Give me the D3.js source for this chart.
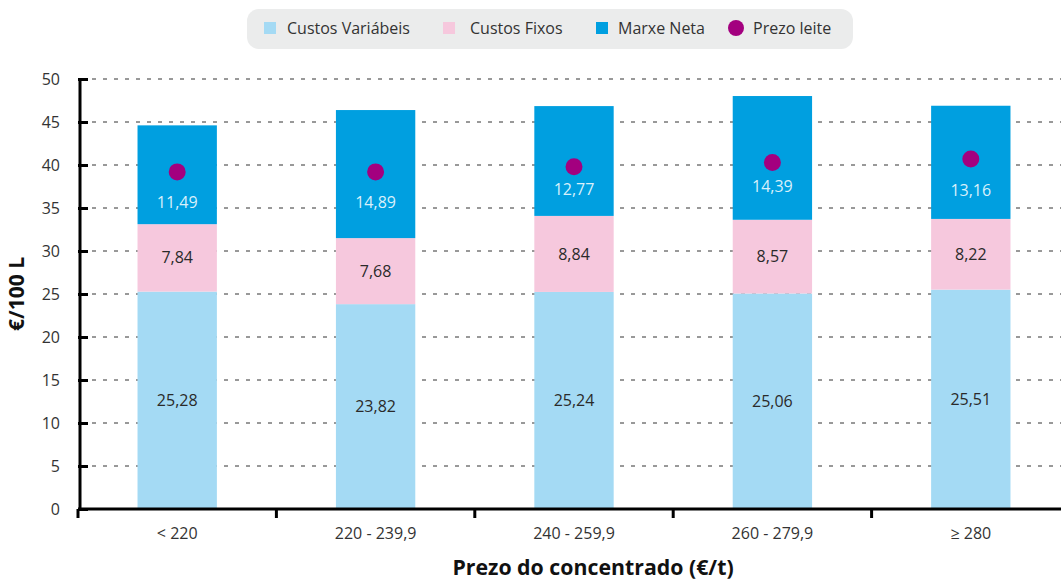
<!DOCTYPE html>
<html><head><meta charset="utf-8">
<script src="https://cdn.jsdelivr.net/npm/d3@7"></script>
<style>body{margin:0;background:#fff}svg{display:block;font-family:"Open Sans",sans-serif}</style>
</head><body><svg id="c" width="1061" height="581"></svg>
<script>
const categories = ["< 220", "220 - 239,9", "240 - 259,9", "260 - 279,9", "≥ 280"];
const custosVariabeis = [25.28, 23.82, 25.24, 25.06, 25.51];
const custosFixos = [7.84, 7.68, 8.84, 8.57, 8.22];
const marxeNeta = [11.49, 14.89, 12.77, 14.39, 13.16];
const prezoLeite = [39.2, 39.2, 39.8, 40.3, 40.7];
const yTicks = [0, 5, 10, 15, 20, 25, 30, 35, 40, 45, 50];
const seriesNames = ["Custos Variábeis", "Custos Fixos", "Marxe Neta", "Prezo leite"];
const colors = ["#a4daf4", "#f6c8dd", "#009fe0", "#a3007f"];
const labelColors = ["#2a2a2a", "#2a2a2a", "#d9f0fb"];

const svg = d3.select("#c");
const x = d3.scaleBand().domain(categories).range([78, 1070]);
const y = d3.scaleLinear().domain([0, 50]).range([509, 79]);
const barW = x.bandwidth() * 0.4;

// grid
svg.append("g").selectAll("line").data(yTicks.filter(d => d > 0)).join("line")
  .attr("x1", 92).attr("x2", 1061).attr("y1", d => y(d)).attr("y2", d => y(d))
  .attr("stroke", "#333").attr("stroke-width", 1).attr("stroke-dasharray", "4,7");

// stacked bars
const rows = categories.map((c, i) => ({cat: c, v: [custosVariabeis[i], custosFixos[i], marxeNeta[i]]}));
rows.forEach(r => {
  let base = 0;
  r.v.forEach((val, k) => {
    const cx = x(r.cat) + x.bandwidth() / 2;
    svg.append("rect").attr("x", cx - barW / 2).attr("width", barW)
      .attr("y", y(base + val)).attr("height", y(base) - y(base + val)).attr("fill", colors[k]);
    const mid = base + val / 2;
    svg.append("text").attr("x", cx).attr("y", y(mid) + (k === 2 ? 28 : 0)).attr("dy", "0.35em")
      .attr("text-anchor", "middle").attr("font-size", 16).attr("fill", labelColors[k])
      .text(val.toFixed(2).replace(".", ","));
    base += val;
  });
});

// dots
svg.append("g").selectAll("circle").data(prezoLeite).join("circle")
  .attr("cx", (d, i) => x(categories[i]) + x.bandwidth() / 2).attr("cy", d => y(d))
  .attr("r", 8.5).attr("fill", colors[3]);

// y axis
const ya = svg.append("g").attr("transform", "translate(80,0)")
  .call(d3.axisLeft(y).tickValues(yTicks).tickSize(-8).tickPadding(20));
ya.select(".domain").attr("stroke", "#000").attr("stroke-width", 3).attr("d", `M0,${y(50)-1}V${y(0)+1}`);
ya.selectAll(".tick line").attr("stroke", "#000").attr("stroke-width", 3).attr("x1", -2);
ya.selectAll(".tick text").attr("font-size", 16).attr("fill", "#333").attr("font-family", "Open Sans, sans-serif");

// x axis
const xa = svg.append("g").attr("transform", `translate(0,${y(0)})`)
  .call(d3.axisBottom(x).tickSize(0).tickPadding(19));
xa.select(".domain").attr("stroke", "#000").attr("stroke-width", 3).attr("d", "M78,0H1061");
xa.selectAll(".tick text").attr("font-size", 16).attr("fill", "#333").attr("font-family", "Open Sans, sans-serif");
svg.append("g").selectAll("line").data(categories).join("line")
  .attr("x1", d => x(d)).attr("x2", d => x(d)).attr("y1", y(0)).attr("y2", y(0) + 9)
  .attr("stroke", "#000").attr("stroke-width", 3);

// titles
svg.append("text").attr("transform", "translate(24,294) rotate(-90)").attr("text-anchor", "middle")
  .attr("font-size", 21).attr("font-weight", "bold").attr("fill", "#111").text("€/100 L");
svg.append("text").attr("x", 593).attr("y", 575).attr("text-anchor", "middle")
  .attr("font-size", 21.3).attr("font-weight", "bold").attr("fill", "#111").text("Prezo do concentrado (€/t)");

// legend
const lg = svg.append("g");
lg.append("rect").attr("x", 247).attr("y", 9).attr("width", 606).attr("height", 40).attr("rx", 12).attr("fill", "#ebecec");
const legX = [264, 443, 596, 728];
const txtX = [287, 470, 618, 753];
seriesNames.forEach((n, i) => {
  if (i < 3) lg.append("rect").attr("x", legX[i]).attr("y", 22).attr("width", 12).attr("height", 12).attr("fill", colors[i]);
  else lg.append("circle").attr("cx", legX[i] + 8).attr("cy", 28).attr("r", 8).attr("fill", colors[i]);
  lg.append("text").attr("x", txtX[i]).attr("y", 28).attr("dy", "0.35em").attr("font-size", 16).attr("fill", "#333").text(n);
});
</script></body></html>
